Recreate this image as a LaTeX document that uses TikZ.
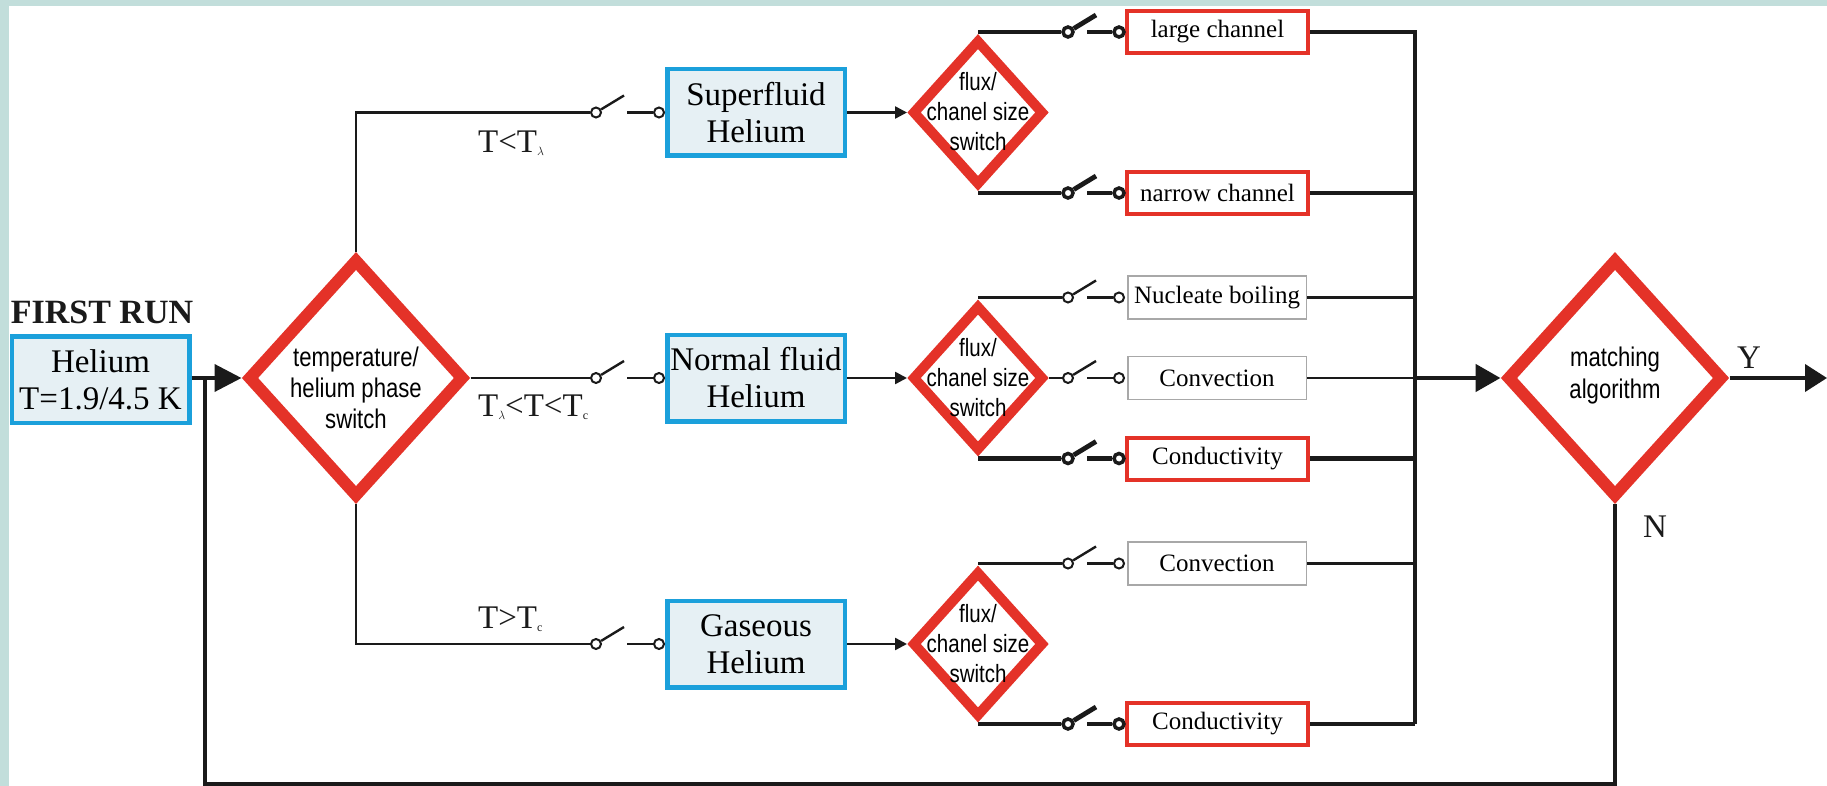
\documentclass[tikz,border=0pt]{standalone}
\usepackage{fontspec}
\setmainfont{Liberation Serif}
\newfontfamily\narrowsf[FakeStretch=0.82]{Liberation Sans}
\usetikzlibrary{shapes.geometric,arrows.meta}
\definecolor{hred}{HTML}{E43228}
\definecolor{hblue}{HTML}{1BA0DB}
\definecolor{hteal}{HTML}{C2DEDB}
\definecolor{hfill}{HTML}{E6F0F4}
\definecolor{hink}{HTML}{1A1A1A}
\definecolor{hgray}{HTML}{A8A8A8}
\newcommand\lsub[1]{\raisebox{-3pt}{\fontsize{12}{12}\selectfont #1}}
\newcommand\mksw[6]{%
  \node[#5] (#1a) at (#2,#3) {};
  \node[#5] (#1b) at (#4,#3) {};
  \draw[#6] (#1a) -- ++(28,-17);
  \draw[#6] (#1b) -- ++(-32,0);
}
\tikzset{
  bluebox/.style={draw=hblue, line width=4.5pt, fill=hfill, minimum width=177.5pt, minimum height=86.5pt, inner sep=0pt, align=center, font=\fontsize{33}{37}\selectfont},
  bigdia/.style={diamond, draw=hred, line width=12pt, minimum width=217pt, minimum height=239pt, inner sep=0pt},
  fluxdia/.style={diamond, draw=hred, line width=10pt, minimum width=132pt, minimum height=146pt, inner sep=0pt},
  dtext/.style={align=center, inner sep=0pt, font=\narrowsf\fontsize{27}{31}\selectfont},
  ftext/.style={align=center, inner sep=0pt, font=\narrowsf\fontsize{25}{30}\selectfont},
  mtext/.style={align=center, inner sep=0pt, font=\narrowsf\fontsize{27}{32}\selectfont},
  redbox/.style={draw=hred, line width=4pt, fill=white, minimum width=181pt, minimum height=42pt, inner sep=0pt, font=\fontsize{25}{28}\selectfont},
  graybox/.style={draw=hgray, line width=1.5pt, fill=white, minimum width=178.5pt, minimum height=43pt, inner sep=0pt, font=\fontsize{25}{28}\selectfont},
  thinw/.style={draw=hink, line width=2.4pt},
  thickw/.style={draw=hink, line width=4.8pt},
  mainw/.style={draw=hink, line width=4pt},
  swthin/.style={circle, draw=hink, fill=white, line width=2pt, minimum size=10pt, inner sep=0pt},
  swthick/.style={circle, draw=hink, fill=white, line width=3.5pt, minimum size=10pt, inner sep=0pt},
  lbl/.style={inner sep=0pt, font=\fontsize{33}{36}\selectfont, text=hink},
  smallarrow/.style={thinw, -{Triangle[length=12pt,width=12pt]}}
}
\begin{document}
\begin{tikzpicture}[x=1pt, y=-1pt]
\useasboundingbox (0,0) rectangle (1827,786);
\fill[white] (0,0) rectangle (1827,786);
\fill[hteal] (0,0) rectangle (1827,6);
\fill[hteal] (0,0) rectangle (9,786);

% input
\node[lbl, anchor=base, font=\bfseries\fontsize{34}{36}\selectfont] (fr) at (102,323) {FIRST RUN};
\node[bluebox] (inbox) at (100.5,379.5) {Helium\\T=1.9/4.5 K};

% temperature switch
\node[bigdia] (temp) at (356,378) {};
\node[dtext] (tempT) at (356,388) {temperature/\\helium phase\\switch};

% phase boxes
\node[bluebox] (sup) at (756,112.5) {Superfluid\\Helium};
\node[bluebox] (nor) at (756,378) {Normal fluid\\Helium};
\node[bluebox] (gas) at (756,644) {Gaseous\\Helium};

% phase switches
\mksw{sa}{596}{112.5}{659}{swthin}{thinw}
\mksw{sb}{596}{378}{659}{swthin}{thinw}
\mksw{sc}{596}{644}{659}{swthin}{thinw}

\node[lbl, anchor=base west] (l1) at (478,153) {T<T\lsub{$\lambda$}};
\node[lbl, anchor=base west] (l2) at (478,416) {T\lsub{$\lambda$}<T<T\lsub{c}};
\node[lbl, anchor=base west] (l3) at (478,628) {T>T\lsub{c}};

% flux diamonds
\node[fluxdia] (fa) at (978,112.5) {};
\node[fluxdia] (fb) at (978,378) {};
\node[fluxdia] (fc) at (978,644) {};
\node[ftext] (faT) at (978,112) {flux/\\chanel size\\switch};
\node[ftext] (fbT) at (978,378) {flux/\\chanel size\\switch};
\node[ftext] (fcT) at (978,644) {flux/\\chanel size\\switch};

% right boxes
\node[redbox] (bL) at (1217.5,32) {large channel};
\node[redbox] (bN) at (1217.5,193) {narrow channel};
\node[graybox] (bNB) at (1217,297.5) {Nucleate boiling};
\node[graybox] (bCV) at (1217,378) {Convection};
\node[redbox] (bCD) at (1217.5,458.5) {Conductivity};
\node[graybox] (bCV2) at (1217,563.5) {Convection};
\node[redbox] (bCD2) at (1217.5,724) {Conductivity};

% right switches
\mksw{ra}{1068}{32}{1119}{swthick}{thickw}
\mksw{rb}{1068}{193}{1119}{swthick}{thickw}
\mksw{rc}{1068}{297.5}{1119}{swthin}{thinw}
\mksw{rd}{1068}{378}{1119}{swthin}{thinw}
\mksw{re}{1068}{458.5}{1119}{swthick}{thickw}
\mksw{rf}{1068}{563.5}{1119}{swthin}{thinw}
\mksw{rg}{1068}{724}{1119}{swthick}{thickw}

% matching
\node[bigdia] (match) at (1615,378) {};
\node[mtext] (matchT) at (1615,376) {matching\\algorithm};
\node[lbl] (Y) at (1749,358) {Y};
\node[lbl] (N) at (1655,527) {N};

\coordinate (busTop) at (1415,32);
\coordinate (busBot) at (1415,724);
\coordinate (busMid) at (1415,378);
\coordinate (outEnd) at (1827,378);
\coordinate (loopR) at (1615,783.5);
\coordinate (loopL) at (205,783.5);
\coordinate (join) at (205,378);

% connectors left
\draw[mainw, -{Triangle[length=27pt,width=27pt]}] (inbox.east |- temp.west) -- (temp.west);
\draw[thinw] (temp.north) |- (saa);
\draw[thinw] (temp.east) -- (sba);
\draw[thinw] (temp.south) |- (sca);
\draw[smallarrow] (sup.east) -- (fa.west);
\draw[smallarrow] (nor.east) -- (fb.west);
\draw[smallarrow] (gas.east) -- (fc.west);

% flux to switches
\draw[thickw] (fa.north |- raa) -- (raa);
\draw[thickw] (fa.south |- rba) -- (rba);
\draw[thinw] (fb.north |- rca) -- (rca);
\draw[thinw] (fb.east) -- (rda);
\draw[thickw] (fb.south |- rea) -- (rea);
\draw[thinw] (fc.north |- rfa) -- (rfa);
\draw[thickw] (fc.south |- rga) -- (rga);

% boxes to bus
\draw[thickw] (bL.east) -| (busBot);
\draw[thickw] (bN.east) -- (bN.east -| busTop);
\draw[thinw] (bNB.east) -- (bNB.east -| busTop);
\draw[thinw] (bCV.east) -- (bCV.east -| busTop);
\draw[thickw] (bCD.east) -- (bCD.east -| busTop);
\draw[thinw] (bCV2.east) -- (bCV2.east -| busTop);
\draw[thickw] (bCD2.east) -- (busBot);

% bus to matching and output
\draw[thickw, -{Triangle[length=25pt,width=27pt]}] (busMid) -- (match.west);
\draw[mainw, -{Triangle[length=22pt,width=27pt]}] (match.east) -- (outEnd);

% feedback loop
\draw[mainw] (match.south) -- (loopR) -- (loopL) -- (join);
\end{tikzpicture}
\end{document}
